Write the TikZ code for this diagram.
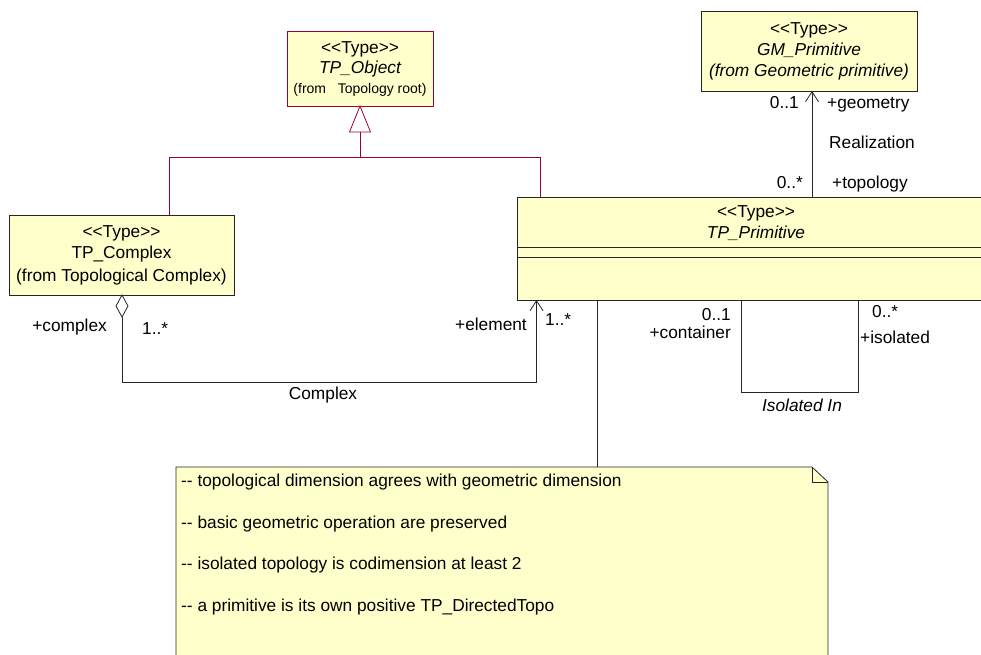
\documentclass[tikz,border=0pt]{standalone}
\usepackage{fontspec}
\newfontfamily\umlfont{Liberation Sans}
\usetikzlibrary{arrows.meta,shapes.geometric}
\definecolor{typefill}{RGB}{255,255,204}
\definecolor{genred}{RGB}{153,0,51}
\tikzset{
  typebox/.style={draw=black!85,fill=typefill,line width=1,inner sep=0,outer sep=0},
  umltext/.style={font=\umlfont\fontsize{17.3}{20}\selectfont,inner sep=0},
  umlsmall/.style={font=\umlfont\fontsize{14}{16}\selectfont,inner sep=0},
  assoc/.style={draw=black!85,line width=0.8},
  genline/.style={draw=genred,line width=0.8},
  openhead/.style={-{Straight Barb[length=10pt,width=13pt]}},
  aggdiamond/.style={diamond,draw=black!85,fill=white,line width=0.8,inner sep=0,outer sep=0,minimum width=12,minimum height=22}
}
\begin{document}
\begin{tikzpicture}[x=1pt,y=-1pt]
\useasboundingbox (0,0) rectangle (981,654);
\node[typebox,draw=genred,minimum width=146,minimum height=75] (object) at (360,68.5) {};
\node[typebox,minimum width=216,minimum height=80] (geomprim) at (809,51) {};
\node[typebox,minimum width=225,minimum height=80] (complex) at (121.5,255) {};
\node[typebox,minimum width=478,minimum height=103] (primitive) at (756,248.5) {};
\draw[assoc] (517,247) -- (995,247);
\draw[assoc] (517,257) -- (995,257);

\node[umltext,anchor=base] (objstereo) at (360,53) {<{}<Type>{}>};
\node[umltext,anchor=base] (objname) at (360,73) {\itshape TP\_Object};
\node[umlsmall,anchor=base] (objfrom) at (360,93) {(from~~~Topology root)};
\node[umltext,anchor=base] (geostereo) at (809,34) {<{}<Type>{}>};
\node[umltext,anchor=base] (geoname) at (809,55) {\itshape GM\_Primitive};
\node[umltext,anchor=base] (geofrom) at (809,76) {\itshape (from Geometric primitive)};
\node[umltext,anchor=base] (cpxstereo) at (121.5,237) {<{}<Type>{}>};
\node[umltext,anchor=base] (cpxname) at (121.5,258) {TP\_Complex};
\node[umltext,anchor=base] (cpxfrom) at (121.5,281) {(from Topological Complex)};
\node[umltext,anchor=base] (primstereo) at (756,217) {<{}<Type>{}>};
\node[umltext,anchor=base] (primname) at (756,238) {\itshape TP\_Primitive};

\coordinate (genjoin) at (360,157);
\coordinate (genleft) at (169,157);
\coordinate (genright) at (540,157);
\draw[genline,fill=white] (object.south) -- ++(-10.5,26) -- ++(21,0) -- cycle;
\draw[genline] ([yshift=-26]object.south) -- (genjoin);
\draw[genline] (genleft |- complex.north) -- (genleft) -- (genright) -- (genright |- primitive.north);

\coordinate (realx) at (812,150);
\draw[assoc,openhead] (realx |- primitive.north) -- (realx |- geomprim.south);
\node[umltext,anchor=base east] (geomult) at (799,108) {0..1};
\node[umltext,anchor=base west] (georole) at (827,108) {+geometry};
\node[umltext,anchor=base west] (realname) at (829,148) {Realization};
\node[umltext,anchor=base east] (topomult) at (803,188) {0..*};
\node[umltext,anchor=base west] (toporole) at (832,188) {+topology};

\node[aggdiamond] (agg) at (122,306) {};
\coordinate (elemx) at (536.5,382);
\draw[assoc,openhead] (agg.south) |- (elemx) -- (elemx |- primitive.south);
\node[umltext,anchor=base east] (cpxrole) at (107,331) {+complex};
\node[umltext,anchor=base west] (cpxmult) at (142,334) {1..*};
\node[umltext,anchor=base] (cpxassoc) at (323,399) {Complex};
\node[umltext,anchor=base east] (elemrole) at (527,330) {+element};
\node[umltext,anchor=base west] (elemmult) at (545,325) {1..*};

\coordinate (isoleft) at (741,392);
\coordinate (isoright) at (858,392);
\draw[assoc] (isoleft |- primitive.south) -- (isoleft) -- (isoright) -- (isoright |- primitive.south);
\node[umltext,anchor=base east] (contmult) at (731,320) {0..1};
\node[umltext,anchor=base east] (controle) at (731,338) {+container};
\node[umltext,anchor=base west] (isomult) at (872,317) {0..*};
\node[umltext,anchor=base west] (isorole) at (860,343) {+isolated};
\node[umltext,anchor=base] (isoassoc) at (802,411) {\itshape Isolated In};

\coordinate (notetop) at (597,467);
\draw[assoc] (notetop |- primitive.south) -- (notetop);
\draw[assoc,fill=typefill] (176,467) -- (812,467) -- (828,482) -- (828,670) -- (176,670) -- cycle;
\draw[assoc] (812,467) -- (812,482) -- (828,482);
\node[umltext,anchor=base west] (note1) at (181,486) {-{}- topological dimension agrees with geometric dimension};
\node[umltext,anchor=base west] (note2) at (181,528) {-{}- basic geometric operation are preserved};
\node[umltext,anchor=base west] (note3) at (181,569) {-{}- isolated topology is codimension at least 2};
\node[umltext,anchor=base west] (note4) at (181,611) {-{}- a primitive is its own positive TP\_DirectedTopo};
\end{tikzpicture}
\end{document}
